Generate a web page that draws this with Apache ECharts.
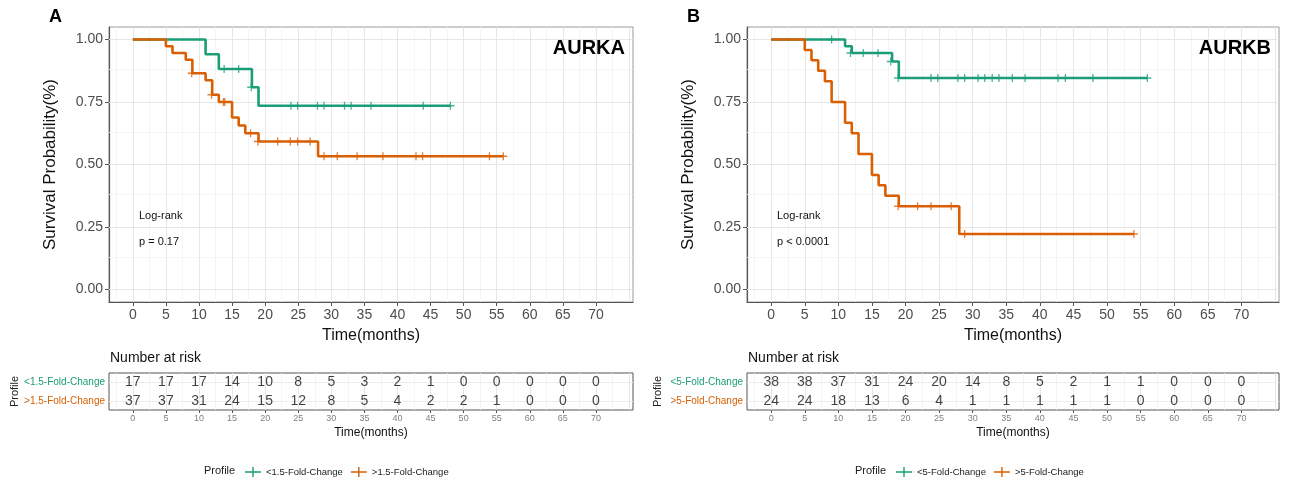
<!DOCTYPE html>
<html>
<head>
<meta charset="utf-8">
<title>AURKA / AURKB survival</title>
<script src="https://cdn.jsdelivr.net/npm/echarts@6/dist/echarts.min.js"></script>
<style>
  html, body { margin: 0; padding: 0; background: #fff; }
  #chart { width: 1290px; height: 485px; }
</style>
</head>
<body>
<div id="chart"></div>
<script>
// time points of the at-risk table and the axis ticks
var timeTicks = [0, 5, 10, 15, 20, 25, 30, 35, 40, 45, 50, 55, 60, 65, 70];
var survTicks = [0, 0.25, 0.5, 0.75, 1];

// AURKA (panel A) - KM steps [time, survival], censored marks [time, survival]
var aLowSteps = [[0, 1], [11, 0.941], [13, 0.882], [18, 0.809], [19, 0.735], [48, 0.735]];
var aLowCensor = [[13.8, 0.882], [16, 0.882], [17.9, 0.809], [23.9, 0.735], [24.9, 0.735], [27.9, 0.735],
  [28.9, 0.735], [32, 0.735], [33, 0.735], [36, 0.735], [43.9, 0.735], [48, 0.735]];
var aHighSteps = [[0, 1], [5, 0.973], [6, 0.946], [8, 0.919], [9, 0.865], [11, 0.837], [12, 0.779],
  [13, 0.75], [15, 0.688], [16, 0.656], [17, 0.625], [19, 0.592], [28, 0.533], [56, 0.533]];
var aHighCensor = [[8.9, 0.865], [11.9, 0.779], [13.7, 0.75], [13.9, 0.75], [17.8, 0.625], [18.9, 0.592],
  [21.9, 0.592], [23.8, 0.592], [24.9, 0.592], [26.8, 0.592], [28.9, 0.533], [30.9, 0.533], [33.9, 0.533],
  [37.8, 0.533], [42.8, 0.533], [43.8, 0.533], [53.9, 0.533], [56, 0.533]];
var aLowRisk = [17, 17, 17, 14, 10, 8, 5, 3, 2, 1, 0, 0, 0, 0, 0];
var aHighRisk = [37, 37, 31, 24, 15, 12, 8, 5, 4, 2, 2, 1, 0, 0, 0];

// AURKB (panel B)
var bLowSteps = [[0, 1], [11, 0.973], [12, 0.946], [18, 0.912], [19, 0.846], [56, 0.846]];
var bLowCensor = [[9, 1], [11.8, 0.946], [13.7, 0.946], [15.9, 0.946], [17.8, 0.912], [18.9, 0.846],
  [23.8, 0.846], [24.8, 0.846], [27.8, 0.846], [28.8, 0.846], [30.8, 0.846], [31.8, 0.846], [32.9, 0.846],
  [33.9, 0.846], [35.9, 0.846], [37.8, 0.846], [42.7, 0.846], [43.8, 0.846], [47.9, 0.846], [56, 0.846]];
var bHighSteps = [[0, 1], [5, 0.958], [6, 0.917], [7, 0.875], [8, 0.833], [9, 0.75], [11, 0.667],
  [12, 0.625], [13, 0.542], [15, 0.458], [16, 0.417], [17, 0.375], [19, 0.333], [28, 0.222], [54, 0.222]];
var bHighCensor = [[18.9, 0.333], [21.8, 0.333], [23.8, 0.333], [26.8, 0.333], [28.8, 0.222], [54, 0.222]];
var bLowRisk = [38, 38, 37, 31, 24, 20, 14, 8, 5, 2, 1, 1, 0, 0, 0];
var bHighRisk = [24, 24, 18, 13, 6, 4, 1, 1, 1, 1, 1, 0, 0, 0, 0];

var FONT = '"Liberation Sans", Arial, sans-serif';
var GREEN = '#1B9E77';
var ORANGE = '#D95F02';
var plusIcon = 'path://M4.2,0H5.8V4.2H10V5.8H5.8V10H4.2V5.8H0V4.2H4.2Z';
var legendIcon = 'path://M0,4.3H16V5.7H0Z M7.3,0H8.7V10H7.3Z';

var panels = [
  { key: 'A', gene: 'AURKA', left: 109, width: 524, pText: 'p = 0.17',
    lowName: '<1.5-Fold-Change', highName: '>1.5-Fold-Change',
    low: aLowSteps, lowCensor: aLowCensor, high: aHighSteps, highCensor: aHighCensor,
    lowRisk: aLowRisk, highRisk: aHighRisk },
  { key: 'B', gene: 'AURKB', left: 747, width: 532, pText: 'p < 0.0001',
    lowName: '<5-Fold-Change', highName: '>5-Fold-Change',
    low: bLowSteps, lowCensor: bLowCensor, high: bHighSteps, highCensor: bHighCensor,
    lowRisk: bLowRisk, highRisk: bHighRisk }
];

// background grid lines (major every 5 months / 0.25, minor halfway)
var vGrid = [];
for (var v = -2.5; v <= 75; v += 2.5) vGrid.push(v);
var hGrid = [0, 0.125, 0.25, 0.375, 0.5, 0.625, 0.75, 0.875, 1];

function gridLine(val, isX, major) {
  var d = isX ? { xAxis: val } : { yAxis: val };
  d.lineStyle = { color: major ? '#e6e6e6' : '#f2f2f2', width: major ? 1 : 0.8, type: 'solid' };
  return d;
}

var grids = [], xAxes = [], yAxes = [], series = [], graphics = [], legends = [];

panels.forEach(function (p, i) {
  var km = 2 * i, rt = 2 * i + 1;

  grids.push({ left: p.left, top: 27, width: p.width, height: 275, show: true,
    borderColor: '#9a9a9a', borderWidth: 1, backgroundColor: '#fff', outerBoundsMode: 'none' });
  grids.push({ left: p.left, top: 373, width: p.width, height: 37, show: true,
    borderColor: '#555', borderWidth: 1, backgroundColor: '#fff', outerBoundsMode: 'none' });

  xAxes.push({
    gridIndex: km, type: 'value', min: -3.6, max: 75.6,
    name: 'Time(months)', nameLocation: 'middle', nameGap: 26,
    nameTextStyle: { fontSize: 16, color: '#111', fontFamily: FONT },
    axisLine: { show: true, onZero: false, lineStyle: { color: '#555', width: 1.2 } },
    axisTick: { show: true, length: 4, customValues: timeTicks, lineStyle: { color: '#555' } },
    axisLabel: { customValues: timeTicks, fontSize: 14, color: '#4d4d4d', margin: 6, fontFamily: FONT },
    splitLine: { show: false }
  });
  yAxes.push({
    gridIndex: km, type: 'value', min: -0.05, max: 1.05,
    name: 'Survival Probability(%)', nameLocation: 'middle', nameGap: 50, nameRotate: 90,
    nameTextStyle: { fontSize: 17, color: '#111', fontFamily: FONT },
    axisLine: { show: true, onZero: false, lineStyle: { color: '#555', width: 1.2 } },
    axisTick: { show: true, length: 4, customValues: survTicks, lineStyle: { color: '#555' } },
    axisLabel: { customValues: survTicks, fontSize: 14, color: '#4d4d4d', margin: 6, fontFamily: FONT,
      formatter: function (val) { return val.toFixed(2); } },
    splitLine: { show: false }
  });

  xAxes.push({
    gridIndex: rt, type: 'value', min: -3.6, max: 75.6,
    name: 'Time(months)', nameLocation: 'middle', nameGap: 17,
    nameTextStyle: { fontSize: 12, color: '#111', fontFamily: FONT },
    axisLine: { show: false, onZero: false },
    axisTick: { show: true, length: 3, customValues: timeTicks, lineStyle: { color: '#555' } },
    axisLabel: { customValues: timeTicks, fontSize: 9, color: '#808080', margin: 4, fontFamily: FONT },
    splitLine: { show: false }
  });
  yAxes.push({
    gridIndex: rt, type: 'category', data: [p.lowName, p.highName], inverse: true,
    name: 'Profile', nameLocation: 'middle', nameGap: 84, nameRotate: 90,
    nameTextStyle: { fontSize: 11, color: '#222', fontFamily: FONT },
    axisLine: { show: false },
    axisTick: { show: true, length: 3, alignWithLabel: true, lineStyle: { color: '#555' } },
    axisLabel: { fontSize: 10, margin: 4, fontFamily: FONT,
      formatter: function (val, idx) { return (idx === 0 ? '{g|' : '{o|') + val + '}'; },
      rich: { g: { color: GREEN, fontSize: 10, fontFamily: FONT }, o: { color: ORANGE, fontSize: 10, fontFamily: FONT } } },
    splitLine: { show: false }
  });

  // panel background grid
  series.push({
    type: 'line', xAxisIndex: km, yAxisIndex: km, data: [], silent: true, z: 1,
    markLine: { silent: true, z: 1, symbol: ['none', 'none'], label: { show: false }, animation: false,
      data: vGrid.map(function (g) { return gridLine(g, true, g % 5 === 0); })
        .concat(hGrid.map(function (g) { return gridLine(g, false, (g * 4) % 1 === 0); })) }
  });
  series.push({
    type: 'line', xAxisIndex: rt, yAxisIndex: rt, data: [], silent: true, z: 1,
    markLine: { silent: true, z: 1, symbol: ['none', 'none'], label: { show: false }, animation: false,
      data: vGrid.map(function (g) { return gridLine(g, true, g % 5 === 0); })
        .concat([{ yAxis: 0, lineStyle: { color: '#ececec', width: 1, type: 'solid' } },
                 { yAxis: 1, lineStyle: { color: '#ececec', width: 1, type: 'solid' } }]) }
  });

  [[p.lowName, p.low, p.lowCensor, GREEN], [p.highName, p.high, p.highCensor, ORANGE]].forEach(function (g) {
    series.push({
      name: g[0], type: 'line', step: 'end', xAxisIndex: km, yAxisIndex: km, z: 3,
      showSymbol: false, color: g[3], lineStyle: { color: g[3], width: 2.6 }, data: g[1]
    });
    series.push({
      name: g[0], type: 'scatter', xAxisIndex: km, yAxisIndex: km, z: 4,
      symbol: plusIcon, symbolSize: 8, itemStyle: { color: g[3] }, data: g[2]
    });
  });

  [[p.lowRisk, 0], [p.highRisk, 1]].forEach(function (r) {
    series.push({
      name: 'risk' + p.key + r[1], type: 'scatter', xAxisIndex: rt, yAxisIndex: rt, z: 3,
      symbolSize: 1, itemStyle: { color: 'transparent' },
      label: { show: true, position: 'inside', fontSize: 14, color: '#111', fontFamily: FONT,
        formatter: function (pt) { return pt.value[2]; } },
      data: timeTicks.map(function (t, j) { return [t, r[1], r[0][j]]; })
    });
  });

  var off = p.left - 109;
  graphics.push(
    { type: 'text', z: 100, x: 49 + off, y: 17, style: { text: p.key, fontSize: 18, fontWeight: 'bold', fontFamily: FONT, fill: '#000', verticalAlign: 'middle' } },
    { type: 'text', z: 100, x: p.left + p.width - 8, y: 48, style: { text: p.gene, fontSize: 20, fontWeight: 'bold', fontFamily: FONT, fill: '#000', align: 'right', verticalAlign: 'middle' } },
    { type: 'text', z: 100, x: 139 + off, y: 216, style: { text: 'Log-rank', fontSize: 11, fontFamily: FONT, fill: '#111', verticalAlign: 'middle' } },
    { type: 'text', z: 100, x: 139 + off, y: 242, style: { text: p.pText, fontSize: 11, fontFamily: FONT, fill: '#111', verticalAlign: 'middle' } },
    { type: 'text', z: 100, x: p.left + 1, y: 358, style: { text: 'Number at risk', fontSize: 14, fontFamily: FONT, fill: '#111', verticalAlign: 'middle' } },
    { type: 'text', z: 100, x: (i === 0 ? 204 : 855), y: 471, style: { text: 'Profile', fontSize: 11, fontFamily: FONT, fill: '#222', verticalAlign: 'middle' } }
  );

  legends.push({
    data: [p.lowName, p.highName], left: (i === 0 ? 240 : 891), top: 462,
    icon: legendIcon, itemWidth: 16, itemHeight: 10, itemGap: 8, selectedMode: false,
    textStyle: { fontSize: 9.5, color: '#222', fontFamily: FONT }
  });
});

var chart = echarts.init(document.getElementById('chart'));
chart.setOption({
  animation: false,
  backgroundColor: '#fff',
  textStyle: { fontFamily: FONT },
  grid: grids,
  xAxis: xAxes,
  yAxis: yAxes,
  legend: legends,
  graphic: graphics,
  series: series
});
</script>
</body>
</html>
